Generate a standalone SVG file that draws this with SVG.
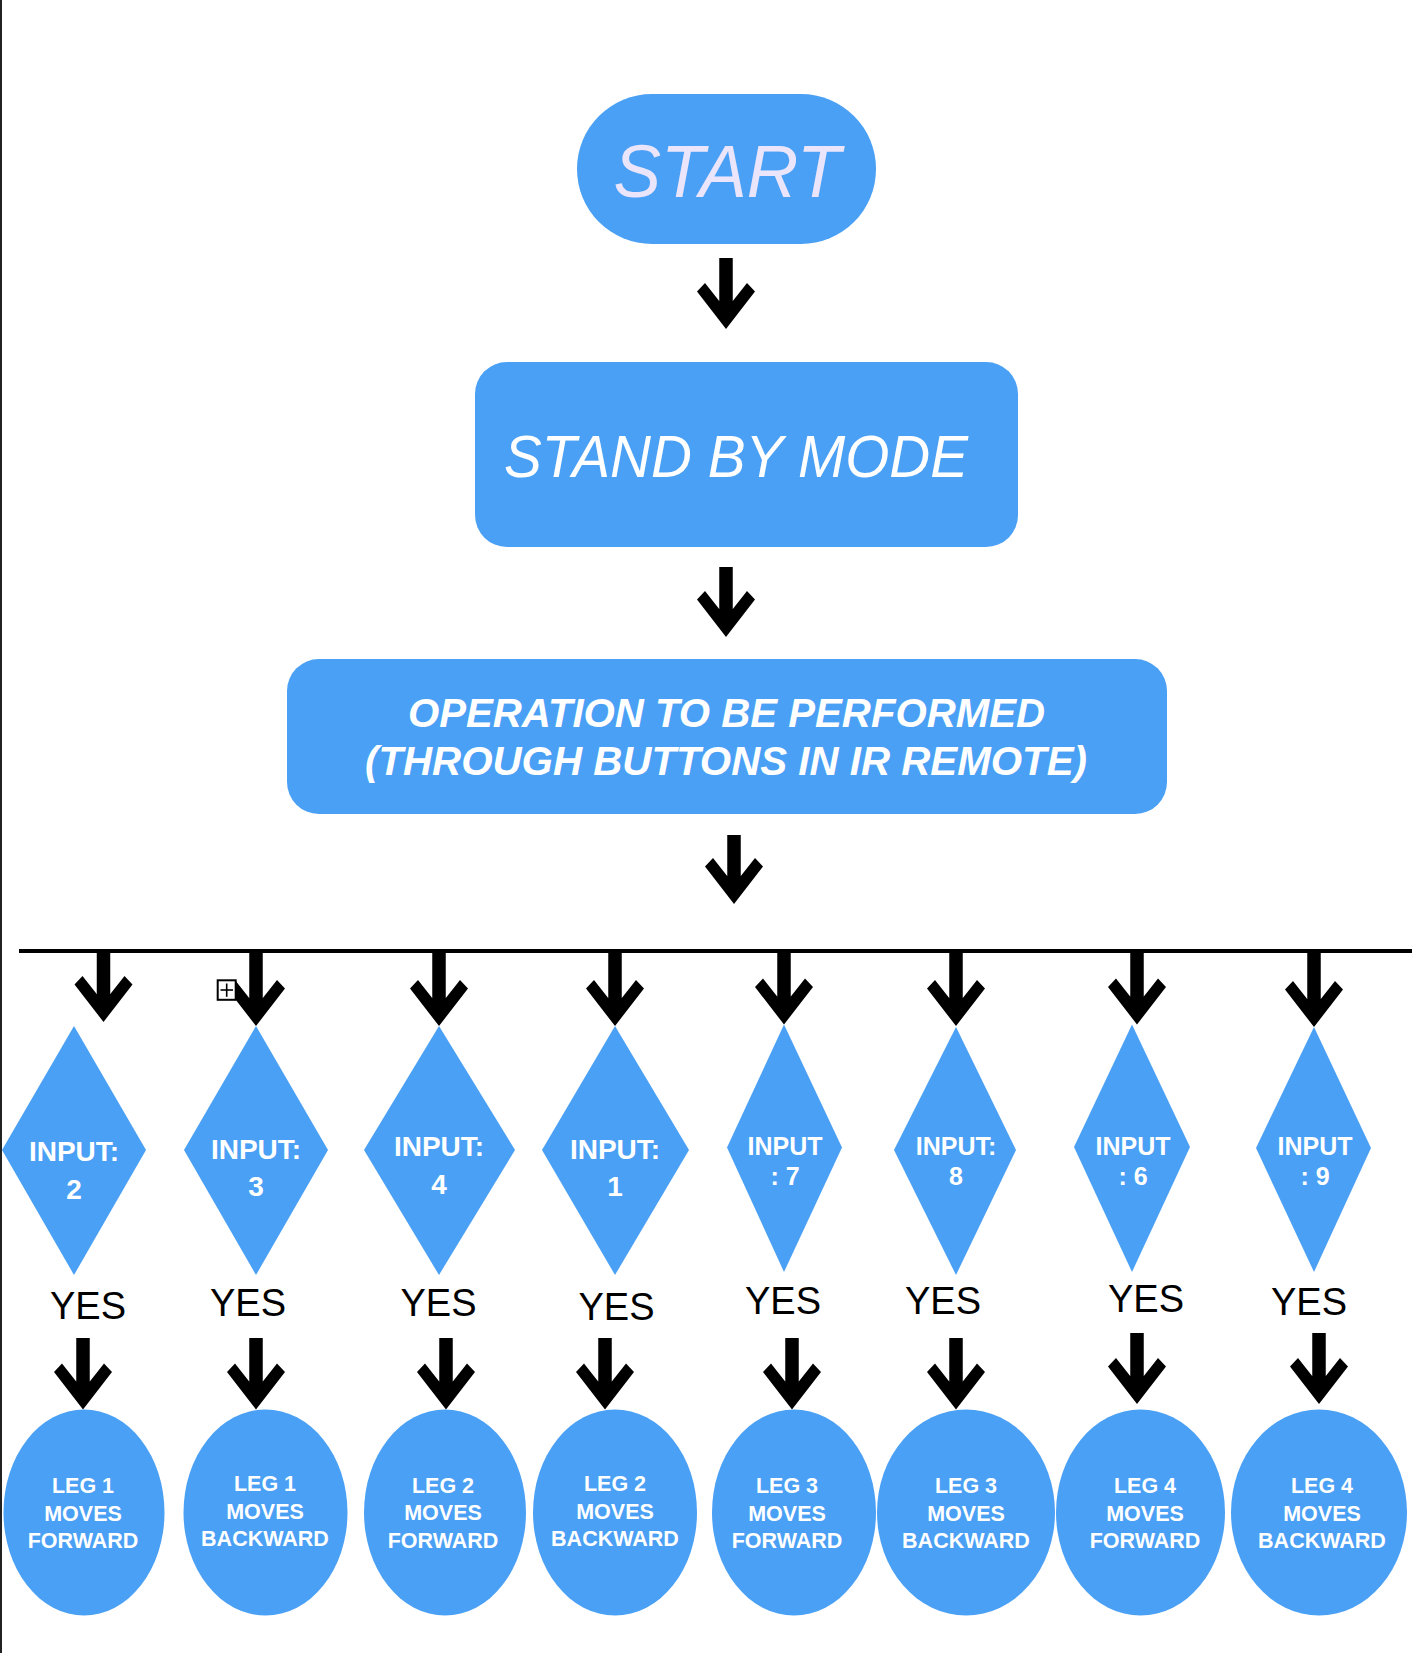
<svg xmlns="http://www.w3.org/2000/svg" xmlns:xlink="http://www.w3.org/1999/xlink" width="1412" height="1653" viewBox="0 0 1412 1653">
<style>
.node{fill:#4aa0f5}
.t{font-family:"Liberation Sans",Arial,Helvetica,sans-serif;fill:#ffffff;text-anchor:middle}
.b{font-weight:bold}
.d1{font-size:28px}
.d2{font-size:25px}
.e{font-size:21.5px}
.yes{font-family:"Liberation Sans",Arial,Helvetica,sans-serif;font-size:38px;fill:#000000;text-anchor:middle}
.shaft{stroke:#000000;stroke-width:13.5}
.head{fill:#000000}
</style>
<defs>
<path id="ah" d="M0,0 L-29,-37.5 L-21,-46 L-6.8,-28 L6.8,-28 L21,-46 L29,-37.5 Z"/>
</defs>
<rect x="0" y="0" width="1412" height="1653" fill="#ffffff"/>
<line x1="1" y1="0" x2="1" y2="1653" stroke="#222222" stroke-width="2"/>

<g id="start">
<rect class="node" x="577" y="94" width="299" height="150" rx="75" ry="75"/>
<text class="t" x="727" y="197" font-size="74" font-style="italic" fill="#ebe5fb" style="fill:#ebe5fb" textLength="227" lengthAdjust="spacingAndGlyphs">START</text>
</g>

<g id="standby">
<rect class="node" x="475" y="362" width="543" height="185" rx="32" ry="32"/>
<text class="t" x="736" y="477" font-size="60" font-style="italic" textLength="464" lengthAdjust="spacingAndGlyphs">STAND BY MODE</text>
</g>

<g id="operation">
<rect class="node" x="287" y="659" width="880" height="155" rx="32" ry="32"/>
<text class="t b" x="726.5" y="727" font-size="41" font-style="italic" textLength="637" lengthAdjust="spacingAndGlyphs">OPERATION TO BE PERFORMED</text>
<text class="t b" x="726" y="774.5" font-size="41" font-style="italic" textLength="722" lengthAdjust="spacingAndGlyphs">(THROUGH BUTTONS IN IR REMOTE)</text>
</g>

<g id="connectors">
<line x1="19" y1="951" x2="1412" y2="951" stroke="#000000" stroke-width="4"/>
<line class="shaft" x1="726" y1="258" x2="726" y2="310"/><use xlink:href="#ah" class="head" x="726" y="329"/>
<line class="shaft" x1="726" y1="567" x2="726" y2="618"/><use xlink:href="#ah" class="head" x="726" y="637"/>
<line class="shaft" x1="734" y1="835" x2="734" y2="886"/><use xlink:href="#ah" class="head" x="734" y="904"/>

<line class="shaft" x1="103.5" y1="953" x2="103.5" y2="1004"/><use xlink:href="#ah" class="head" x="103.5" y="1022"/>
<line class="shaft" x1="256" y1="953" x2="256" y2="1008"/><use xlink:href="#ah" class="head" x="256" y="1026"/>
<line class="shaft" x1="439" y1="953" x2="439" y2="1008"/><use xlink:href="#ah" class="head" x="439" y="1026"/>
<line class="shaft" x1="615" y1="953" x2="615" y2="1008"/><use xlink:href="#ah" class="head" x="615" y="1026"/>
<line class="shaft" x1="784" y1="953" x2="784" y2="1006"/><use xlink:href="#ah" class="head" x="784" y="1024.5"/>
<line class="shaft" x1="956" y1="953" x2="956" y2="1008"/><use xlink:href="#ah" class="head" x="956" y="1026"/>
<line class="shaft" x1="1137" y1="953" x2="1137" y2="1006"/><use xlink:href="#ah" class="head" x="1137" y="1024.5"/>
<line class="shaft" x1="1314" y1="953" x2="1314" y2="1008"/><use xlink:href="#ah" class="head" x="1314" y="1027"/>

<line class="shaft" x1="83" y1="1338" x2="83" y2="1390"/><use xlink:href="#ah" class="head" x="83" y="1409.5"/>
<line class="shaft" x1="256" y1="1338" x2="256" y2="1390"/><use xlink:href="#ah" class="head" x="256" y="1409.5"/>
<line class="shaft" x1="446" y1="1338" x2="446" y2="1390"/><use xlink:href="#ah" class="head" x="446" y="1409.5"/>
<line class="shaft" x1="605" y1="1338" x2="605" y2="1390"/><use xlink:href="#ah" class="head" x="605" y="1409.5"/>
<line class="shaft" x1="792" y1="1338" x2="792" y2="1390"/><use xlink:href="#ah" class="head" x="792" y="1409.5"/>
<line class="shaft" x1="956" y1="1338" x2="956" y2="1390"/><use xlink:href="#ah" class="head" x="956" y="1409.5"/>
<line class="shaft" x1="1137" y1="1333" x2="1137" y2="1385"/><use xlink:href="#ah" class="head" x="1137" y="1404"/>
<line class="shaft" x1="1319" y1="1333" x2="1319" y2="1385"/><use xlink:href="#ah" class="head" x="1319" y="1404"/>
</g>

<g id="icon">
<rect x="217.7" y="980.3" width="18" height="19.5" fill="#ffffff" stroke="#000000" stroke-width="2"/>
<line x1="220.5" y1="990" x2="233" y2="990" stroke="#000000" stroke-width="1.6"/>
<line x1="226.7" y1="983.5" x2="226.7" y2="996.8" stroke="#000000" stroke-width="1.6"/>
</g>

<g id="input2">
<polygon class="node" points="74,1026 146,1150 74,1275 2,1150"/>
<text class="t b d1" x="74" y="1160.5">INPUT:</text>
<text class="t b d1" x="74" y="1199">2</text>
</g>
<g id="input3">
<polygon class="node" points="256,1026 328,1150 256,1275 184,1150"/>
<text class="t b d1" x="256" y="1159">INPUT:</text>
<text class="t b d1" x="256" y="1196">3</text>
</g>
<g id="input4">
<polygon class="node" points="439,1026 515,1150 439,1275 364,1150"/>
<text class="t b d1" x="439" y="1156">INPUT:</text>
<text class="t b d1" x="439" y="1194">4</text>
</g>
<g id="input1">
<polygon class="node" points="615,1026 689,1150 615,1275 542,1150"/>
<text class="t b d1" x="615" y="1159">INPUT:</text>
<text class="t b d1" x="615" y="1196">1</text>
</g>
<g id="input7">
<polygon class="node" points="784,1024.5 842,1147.5 784,1272 727,1147.5"/>
<text class="t b d2" x="785" y="1155">INPUT</text>
<text class="t b d2" x="785" y="1185">: 7</text>
</g>
<g id="input8">
<polygon class="node" points="956,1027 1016,1150 956,1275 894,1150"/>
<text class="t b d2" x="956" y="1155">INPUT:</text>
<text class="t b d2" x="956" y="1185">8</text>
</g>
<g id="input6">
<polygon class="node" points="1132,1024.5 1190,1147 1132,1272 1074,1147"/>
<text class="t b d2" x="1133" y="1155">INPUT</text>
<text class="t b d2" x="1133" y="1185">: 6</text>
</g>
<g id="input9">
<polygon class="node" points="1314,1027 1371,1148 1314,1272 1256,1148"/>
<text class="t b d2" x="1315" y="1155">INPUT</text>
<text class="t b d2" x="1315" y="1185">: 9</text>
</g>

<g id="labels">
<text class="yes" x="88" y="1318.5">YES</text>
<text class="yes" x="248" y="1316">YES</text>
<text class="yes" x="438.5" y="1316">YES</text>
<text class="yes" x="616.5" y="1319.5">YES</text>
<text class="yes" x="783" y="1314">YES</text>
<text class="yes" x="943" y="1314">YES</text>
<text class="yes" x="1146" y="1311.5">YES</text>
<text class="yes" x="1309" y="1315">YES</text>
</g>

<g id="leg1f">
<ellipse class="node" cx="84" cy="1512.5" rx="80.5" ry="103"/>
<text class="t b e" x="83" y="1493">LEG 1</text>
<text class="t b e" x="83" y="1521">MOVES</text>
<text class="t b e" x="83" y="1548">FORWARD</text>
</g>
<g id="leg1b">
<ellipse class="node" cx="265.5" cy="1512.5" rx="82" ry="103"/>
<text class="t b e" x="265" y="1491">LEG 1</text>
<text class="t b e" x="265" y="1519">MOVES</text>
<text class="t b e" x="265" y="1546">BACKWARD</text>
</g>
<g id="leg2f">
<ellipse class="node" cx="445" cy="1512.5" rx="81" ry="103"/>
<text class="t b e" x="443" y="1492.5">LEG 2</text>
<text class="t b e" x="443" y="1520">MOVES</text>
<text class="t b e" x="443" y="1548">FORWARD</text>
</g>
<g id="leg2b">
<ellipse class="node" cx="615" cy="1512.5" rx="82" ry="103"/>
<text class="t b e" x="615" y="1491">LEG 2</text>
<text class="t b e" x="615" y="1519">MOVES</text>
<text class="t b e" x="615" y="1546">BACKWARD</text>
</g>
<g id="leg3f">
<ellipse class="node" cx="794" cy="1512.5" rx="82" ry="103"/>
<text class="t b e" x="787" y="1492.5">LEG 3</text>
<text class="t b e" x="787" y="1521">MOVES</text>
<text class="t b e" x="787" y="1548">FORWARD</text>
</g>
<g id="leg3b">
<ellipse class="node" cx="966" cy="1512.5" rx="89" ry="103"/>
<text class="t b e" x="966" y="1492.5">LEG 3</text>
<text class="t b e" x="966" y="1521">MOVES</text>
<text class="t b e" x="966" y="1548">BACKWARD</text>
</g>
<g id="leg4f">
<ellipse class="node" cx="1140.5" cy="1512.5" rx="84.5" ry="103"/>
<text class="t b e" x="1145" y="1492.5">LEG 4</text>
<text class="t b e" x="1145" y="1521">MOVES</text>
<text class="t b e" x="1145" y="1548">FORWARD</text>
</g>
<g id="leg4b">
<ellipse class="node" cx="1319" cy="1512.5" rx="88" ry="103"/>
<text class="t b e" x="1322" y="1492.5">LEG 4</text>
<text class="t b e" x="1322" y="1521">MOVES</text>
<text class="t b e" x="1322" y="1548">BACKWARD</text>
</g>
</svg>
